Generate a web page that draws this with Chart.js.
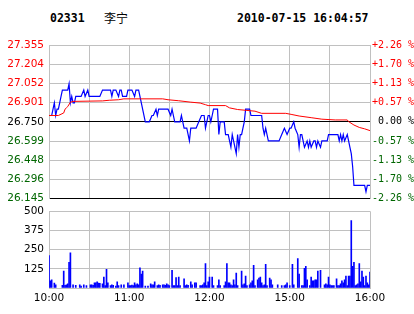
<!DOCTYPE html>
<html>
<head>
<meta charset="utf-8">
<title>02331 李宁</title>
<script src="https://cdn.jsdelivr.net/npm/chart.js@4.4.0/dist/chart.umd.min.js"></script>
<style>
    html, body { margin: 0; padding: 0; background: #fff; }
    body { width: 414px; height: 314px; position: relative; overflow: hidden; }
    .head { position: absolute; top: 11px; line-height: 11.5px; font: bold 11.5px "DejaVu Sans Mono", monospace; color: #000; white-space: pre; }
    #stockName { top: 9px; line-height: 12px; font: 12px "Noto Sans CJK SC", sans-serif; }
    canvas { position: absolute; left: 0; }
    #priceChart { top: 0; }
    #volumeChart { top: 200px; }
</style>
</head>
<body>
<div class="head" id="stockCode" style="left:50px">02331</div>
<div class="head" id="stockName" style="left:104px">李宁</div>
<div class="head" id="stamp" style="left:237px">2010-07-15 16:04:57</div>
<canvas id="priceChart" width="414" height="210"></canvas>
<canvas id="volumeChart" width="414" height="114"></canvas>
<script>
// minutes since 10:00 (12:30-14:30 lunch break removed)
const timeTicks = [0, 30, 60, 90, 120, 150, 180, 210, 240];
const timeLabels = ['10:00', '', '11:00', '', '12:00', '', '15:00', '', '16:00'];

const prevClose = 26.750;
const priceTicks = [26.145, 26.296, 26.448, 26.599, 26.750, 26.901, 27.052, 27.204, 27.355];
const priceLabels = ['26.145', '26.296', '26.448', '26.599', '26.750', '26.901', '27.052', '27.204', '27.355'];
const pctLabels = ['-2.26 %', '-1.70 %', '-1.13 %', '-0.57 %', ' 0.00 %', '+0.57 %', '+1.13 %', '+1.70 %', '+2.26 %'];

// last trade price
const tradeMinutes = [
    0, 2, 3, 4, 5, 6, 7, 8, 9, 10, 14, 15, 16, 17, 18, 19, 20, 24, 26, 27,
    29, 30, 38, 40, 46, 47, 48, 50, 52, 53, 54, 55, 58, 59, 62, 64, 65, 67, 68, 72,
    75, 77, 78, 80, 81, 82, 89, 91, 92, 93, 94, 98, 99, 100, 101, 103, 105, 106, 110, 112,
    114, 116, 117, 119, 120, 121, 122, 123, 126, 127, 128, 131, 132, 134, 135, 136, 137, 138, 140, 141,
    142, 143, 144, 145, 146, 147, 150, 151, 159, 160, 161, 162, 163, 164, 172, 174, 176, 178, 180, 181,
    183, 184, 186, 187, 188, 189, 190, 191, 193, 194, 195, 196, 198, 199, 200, 201, 203, 204, 208, 209,
    216, 217, 218, 219, 220, 221, 223, 224, 225, 226, 227, 228, 236, 237, 238, 240
];
const tradePrices = [
    26.80, 26.80, 26.85, 26.90, 26.80, 26.85, 26.85, 26.90, 26.95, 27.00, 27.00, 27.05, 26.90, 26.95, 26.90, 26.90, 26.95, 26.95, 27.00, 26.95,
    27.00, 26.95, 26.95, 27.00, 27.00, 26.95, 27.00, 27.00, 26.95, 27.00, 27.00, 26.95, 26.95, 27.00, 27.00, 26.95, 27.00, 27.00, 26.95, 26.75,
    26.75, 26.80, 26.80, 26.85, 26.80, 26.85, 26.85, 26.80, 26.85, 26.80, 26.75, 26.75, 26.80, 26.75, 26.70, 26.70, 26.60, 26.70, 26.70, 26.75,
    26.80, 26.80, 26.70, 26.80, 26.80, 26.75, 26.80, 26.85, 26.85, 26.65, 26.75, 26.75, 26.65, 26.65, 26.60, 26.55, 26.65, 26.60, 26.50, 26.65,
    26.55, 26.65, 26.65, 26.70, 26.75, 26.85, 26.85, 26.80, 26.80, 26.70, 26.65, 26.70, 26.65, 26.60, 26.60, 26.65, 26.70, 26.65, 26.70, 26.70,
    26.75, 26.70, 26.65, 26.55, 26.65, 26.65, 26.60, 26.55, 26.60, 26.55, 26.60, 26.55, 26.60, 26.60, 26.55, 26.60, 26.55, 26.60, 26.60, 26.65,
    26.65, 26.60, 26.65, 26.60, 26.65, 26.60, 26.65, 26.60, 26.55, 26.50, 26.40, 26.25, 26.25, 26.20, 26.25, 26.25
];

// average price
const avgMinutes = [0, 7, 9, 11, 12, 13, 14, 16, 18, 40, 45, 52, 56, 85, 89, 97, 106, 113, 117, 119,
    132, 135, 141, 148, 154, 159, 177, 181, 187, 196, 204, 214, 223, 224, 228, 232, 236, 240];
const avgPrices = [26.800, 26.800, 26.810, 26.820, 26.850, 26.860, 26.870, 26.905, 26.911, 26.915, 26.920, 26.924, 26.931, 26.931, 26.924, 26.916, 26.905, 26.898, 26.885, 26.878,
    26.878, 26.860, 26.847, 26.840, 26.834, 26.817, 26.817, 26.809, 26.796, 26.783, 26.771, 26.765, 26.765, 26.752, 26.725, 26.706, 26.695, 26.681];

// volume per minute
const volTicks = [0, 125, 250, 375, 500];
const volLabels = ['', '125', '250', '375', '500'];
const volMinutes = [
    0, 1, 2, 4, 5, 10, 11, 12, 13, 14, 15, 16, 18, 20, 23, 24, 26, 28, 31, 32,
    33, 34, 35, 36, 37, 38, 40, 41, 42, 43, 44, 46, 47, 48, 50, 51, 52, 54, 56, 59,
    60, 61, 62, 63, 64, 65, 66, 67, 68, 69, 70, 72, 74, 76, 77, 78, 79, 81, 82, 83,
    85, 86, 87, 88, 89, 90, 92, 93, 94, 95, 96, 97, 98, 101, 102, 103, 104, 106, 107, 109,
    110, 113, 114, 115, 116, 117, 118, 119, 120, 122, 123, 126, 127, 128, 131, 132, 133, 134, 135, 136,
    137, 138, 139, 140, 141, 144, 145, 146, 147, 148, 150, 151, 152, 153, 154, 156, 157, 158, 159, 160,
    161, 162, 163, 165, 166, 167, 171, 174, 176, 177, 178, 180, 182, 183, 186, 187, 189, 190, 191, 192,
    193, 195, 196, 197, 198, 199, 200, 201, 203, 206, 207, 208, 209, 210, 211, 212, 213, 215, 216, 217,
    218, 219, 220, 221, 222, 223, 224, 225, 226, 227, 228, 229, 230, 231, 232, 233, 234, 235, 236, 237,
    238, 239, 240
];
const volumes = [
    211, 46, 53, 32, 21, 17, 110, 17, 21, 27, 167, 230, 21, 17, 21, 13, 21, 15, 21, 21,
    17, 34, 34, 40, 32, 30, 27, 72, 15, 122, 34, 15, 21, 17, 13, 40, 15, 21, 21, 34,
    15, 15, 19, 15, 34, 21, 27, 21, 131, 91, 110, 13, 13, 27, 21, 21, 40, 15, 21, 17,
    21, 21, 17, 27, 21, 15, 116, 15, 15, 68, 15, 72, 15, 59, 15, 21, 17, 40, 21, 34,
    34, 15, 15, 21, 34, 160, 15, 40, 72, 72, 15, 15, 53, 15, 15, 40, 160, 34, 34, 21,
    15, 53, 21, 97, 15, 110, 21, 27, 78, 15, 21, 34, 46, 148, 15, 53, 65, 72, 34, 15,
    21, 154, 15, 65, 53, 21, 21, 15, 15, 21, 34, 15, 154, 21, 192, 91, 15, 15, 129, 141,
    53, 15, 72, 46, 46, 53, 53, 110, 116, 21, 27, 21, 72, 21, 15, 15, 15, 59, 15, 15,
    27, 46, 34, 53, 78, 15, 78, 78, 439, 141, 167, 15, 21, 27, 160, 40, 110, 72, 15, 78,
    34, 21, 103
];

const BLUE = '#0000ff';
const RED = '#ff0000';
const GREEN = '#006600';
const GRID = '#c0c0c0';
const labelFont = { family: 'DejaVu Sans', size: 10.5 };
const pctFont = { family: 'DejaVu Sans Mono', size: 10 };

function pairs(xs, ys) {
    return xs.map((x, i) => ({ x: x, y: ys[i] }));
}

function levelColor(value) {
    if (value > prevClose) return RED;
    if (value < prevClose) return GREEN;
    return '#000';
}

function fixTicks(values) {
    return scale => { scale.ticks = values.map(v => ({ value: v })); };
}

const common = {
    responsive: false,
    animation: false,
    events: [],
    plugins: { legend: { display: false }, tooltip: { enabled: false } }
};

new Chart(document.getElementById('priceChart'), {
    type: 'line',
    data: {
        datasets: [
            { data: pairs(avgMinutes, avgPrices), borderColor: RED, borderWidth: 1, pointRadius: 0, tension: 0 },
            { data: pairs(tradeMinutes, tradePrices), borderColor: BLUE, borderWidth: 1.2, pointRadius: 0, tension: 0 }
        ]
    },
    options: {
        ...common,
        layout: { padding: { top: 45, bottom: 7, left: 0, right: 0 } },
        scales: {
            x: {
                type: 'linear', min: 0, max: 240,
                afterBuildTicks: fixTicks(timeTicks),
                afterFit: s => { s.height = 0; },
                ticks: { display: false },
                grid: { color: GRID, drawTicks: false },
                border: { display: false }
            },
            y: {
                position: 'left',
                min: priceTicks[0], max: priceTicks[priceTicks.length - 1],
                afterBuildTicks: fixTicks(priceTicks),
                afterFit: s => { s.width = 49; },
                ticks: {
                    autoSkip: false, padding: 5, font: labelFont,
                    color: ctx => levelColor(ctx.tick.value),
                    callback: (v, i) => priceLabels[i]
                },
                grid: {
                    drawTicks: false,
                    color: ctx => (ctx.tick.value === prevClose || ctx.tick.value === priceTicks[0]) ? '#000' : GRID
                },
                border: { color: GRID }
            },
            y2: {
                position: 'right',
                min: priceTicks[0], max: priceTicks[priceTicks.length - 1],
                afterBuildTicks: fixTicks(priceTicks),
                afterFit: s => { s.width = 44; },
                ticks: {
                    autoSkip: false, padding: 2, font: pctFont,
                    color: ctx => levelColor(ctx.tick.value),
                    callback: (v, i) => pctLabels[i]
                },
                grid: { display: false, drawTicks: false },
                border: { color: GRID }
            }
        }
    }
});

new Chart(document.getElementById('volumeChart'), {
    type: 'bar',
    data: {
        datasets: [{ data: pairs(volMinutes, volumes), backgroundColor: BLUE, barThickness: 1 }]
    },
    options: {
        ...common,
        layout: { padding: { top: 9, right: 44, left: 0, bottom: 0 } },
        scales: {
            x: {
                type: 'linear', min: 0, max: 240, offset: false,
                afterBuildTicks: fixTicks(timeTicks),
                afterFit: s => { s.height = 26; },
                ticks: {
                    autoSkip: false, maxRotation: 0, padding: 4, font: labelFont, color: '#000',
                    callback: (v, i) => timeLabels[i]
                },
                grid: { color: GRID, drawTicks: false, offset: false },
                border: { color: GRID }
            },
            y: {
                min: 0, max: 500,
                afterBuildTicks: fixTicks(volTicks),
                afterFit: s => { s.width = 49; },
                ticks: {
                    autoSkip: false, padding: 5, font: labelFont, color: '#000',
                    callback: (v, i) => volLabels[i]
                },
                grid: { color: GRID, drawTicks: false },
                border: { color: GRID }
            }
        }
    }
});
</script>
</body>
</html>
